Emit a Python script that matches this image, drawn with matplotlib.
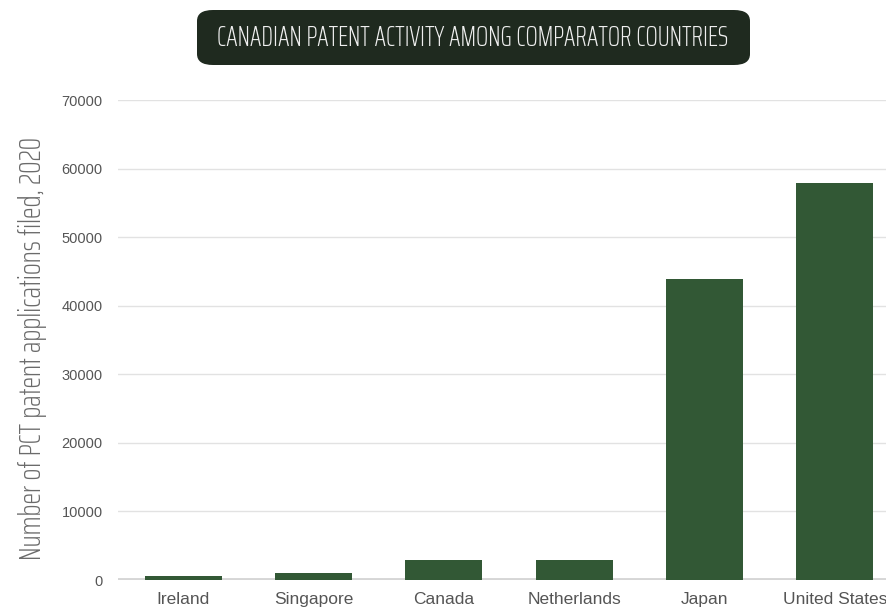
import matplotlib.pyplot as plt
from matplotlib.patches import FancyBboxPatch

# Data
countries = ["Ireland", "Singapore", "Canada", "Netherlands", "Japan", "United States"]
applications = [550, 1000, 2900, 2900, 43900, 57900]
y_ticks = [0, 10000, 20000, 30000, 40000, 50000, 60000, 70000]

bar_color = "#325835"
cond_font = ["Saira ExtraCondensed", "DejaVu Sans"]
W, H = 887, 608

fig = plt.figure(figsize=(W / 100, H / 100), dpi=100)

# axes runs a little past the right edge, as in the reference
left, right, bottom, top = 118, 900, 580, 100
ax = fig.add_axes([left / W, 1 - bottom / H, (right - left) / W, (bottom - top) / H])

ax.bar(range(len(countries)), applications, width=0.59, color=bar_color, zorder=3)
ax.set_xlim(-0.5, len(countries) - 0.5)
ax.set_ylim(0, 70000)

ax.set_yticks(y_ticks)
ax.set_yticklabels([str(t) for t in y_ticks], fontsize=10.5, color="#555555",
                   family="Liberation Sans")
ax.set_xticks(range(len(countries)))
ax.set_xticklabels(countries, fontsize=12.5, color="#555555", family="Liberation Sans")
for lbl in ax.get_xticklabels():
    lbl.set_va("baseline")
ax.tick_params(axis="y", length=0, pad=11)
ax.tick_params(axis="x", length=0, pad=17)

ax.grid(axis="y", color="#e2e2e2", linewidth=1, zorder=0)
ax.axhline(0, color="#d6d6d6", linewidth=3.5, zorder=2)
for s in ax.spines.values():
    s.set_visible(False)

fig.text(33 / W, 1 - 348 / H, "Number of PCT patent applications filed, 2020",
         rotation=90, ha="center", va="center", fontsize=22.5, color="#6a6a6a",
         family=cond_font, weight=275)

# title box
box = FancyBboxPatch((197 / W, 1 - 65 / H), (750 - 197) / W, 55 / H,
                     boxstyle="round,pad=0,rounding_size=0.018",
                     transform=fig.transFigure, facecolor="#1f2a1f",
                     edgecolor="none")
fig.patches.append(box)
fig.text(473 / W, 1 - 38 / H, "CANADIAN PATENT ACTIVITY AMONG COMPARATOR COUNTRIES",
         ha="center", va="center", fontsize=20.5, color="#f0f0f0",
         family=cond_font, weight=275)

fig.savefig("out.png", dpi=100)
